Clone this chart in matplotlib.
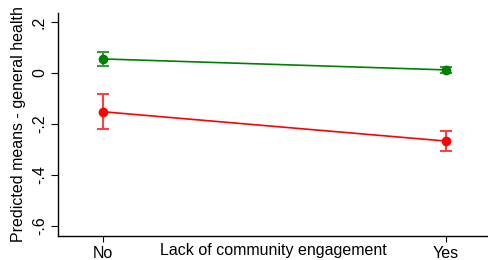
import matplotlib
matplotlib.use("Agg")
import matplotlib.pyplot as plt

plt.rcParams['font.family'] = ['Liberation Sans', 'DejaVu Sans']

categories = ["No", "Yes"]
x_pos = [1, 2]
green_mean = [0.055, 0.012]
green_lo = [0.029, 0.001]
green_hi = [0.083, 0.023]
red_mean = [-0.152, -0.267]
red_lo = [-0.218, -0.305]
red_hi = [-0.084, -0.226]
yticks = [-0.6, -0.4, -0.2, 0, 0.2]
ytick_labels = ["-.6", "-.4", "-.2", "0", ".2"]

fig = plt.figure(figsize=(4.89, 2.60), dpi=100)
ax = fig.add_axes([58/489, 24/260, 1 - 58/489, (236-13)/260])

for mean, lo, hi, col, ecol in [
    (green_mean, green_lo, green_hi, '#008000', '#3a9a3a'),
    (red_mean, red_lo, red_hi, '#ff0000', '#ff4040'),
]:
    yerr = [[m - l for m, l in zip(mean, lo)], [h - m for m, h in zip(mean, hi)]]
    ax.errorbar(x_pos, mean, yerr=yerr, fmt='none', ecolor=ecol, elinewidth=1.5,
                capsize=4, capthick=1.5, zorder=2)
    ax.plot(x_pos, mean, color=col, lw=1.2, marker='o', markersize=7,
            markeredgewidth=0, zorder=3)

ax.set_xlim(0.869, 2.125)
ax.set_ylim(-0.639, 0.235)
ax.set_xticks(x_pos)
ax.set_xticklabels(categories, fontsize=11.5)
ax.set_yticks(yticks)
ax.set_yticklabels(ytick_labels, fontsize=11.5, rotation=90, va='center')
ax.tick_params(axis='x', length=4, width=0.8, pad=3)
ax.tick_params(axis='y', length=5, width=0.8, pad=3)
for s in ['top', 'right']:
    ax.spines[s].set_visible(False)
for s in ['left', 'bottom']:
    ax.spines[s].set_linewidth(1.0)

ax.set_ylabel("Predicted means - general health", fontsize=11.5, labelpad=4)
ax.set_xlabel("Lack of community engagement", fontsize=11.5)
ax.xaxis.set_label_coords(0.5, -0.03)
ax.xaxis.label.set_va('top')

fig.savefig("out.png", dpi=100)
